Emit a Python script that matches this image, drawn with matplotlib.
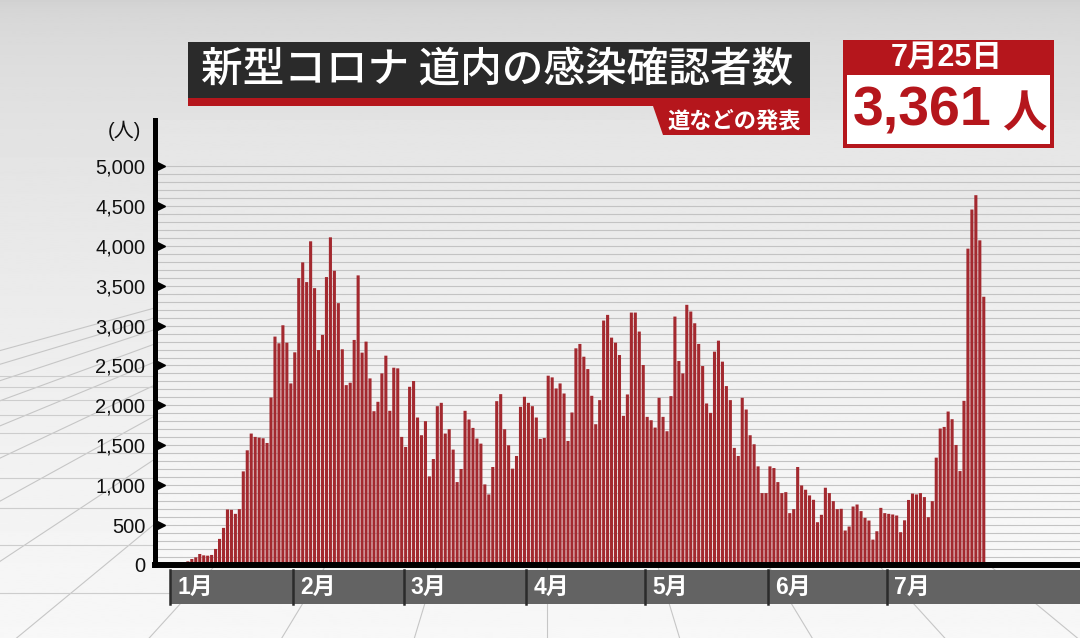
import matplotlib.pyplot as plt
import matplotlib.transforms as mtransforms
from matplotlib.patches import Polygon, Rectangle
import numpy as np
import pandas as pd

plt.rcParams["font.family"] = ["Noto Sans CJK JP", "DejaVu Sans"]

# daily confirmed cases in Hokkaido, 2022-01-01 .. 2022-07-25
cases = [
    20, 20, 10, 30, 46, 75, 96, 138, 121, 117, 126, 201, 327, 465, 696, 691,
    641, 700, 1173, 1437, 1647, 1605, 1596, 1588, 1529, 2099, 2862, 2778, 3004, 2786,
    2275, 2665, 3595, 3792, 3545, 4056, 3469, 2694, 2883, 3608, 4106, 3687, 3281, 2703,
    2254, 2284, 2820, 3629, 2661, 2799, 2338, 1927, 2045, 2401, 2623, 1932, 2472, 2464,
    1605, 1479, 2233, 2305, 1848, 1626, 1802, 1110, 1328, 1990, 2032, 1647, 1701, 1446,
    1039, 1203, 1932, 1823, 1718, 1584, 1521, 1010, 884, 1228, 2053, 2141, 1701, 1500,
    1207, 1366, 1982, 2108, 2032, 1990, 1848, 1580, 1592, 2372, 2351, 2212, 2275, 2149,
    1554, 1911, 2715, 2770, 2610, 2455, 2120, 1764, 2066, 3063, 3134, 2849, 2786, 2631,
    1869, 2137, 3163, 3163, 2925, 2506, 1856, 1814, 1722, 2095, 1856, 1676, 2116, 3113,
    2556, 2401, 3260, 3176, 3029, 2770, 2493, 2024, 1906, 2673, 2811, 2548, 2242, 2066,
    1467, 1366, 2095, 1948, 1626, 1513, 1236, 901, 901, 1236, 1215, 1039, 901, 913,
    650, 700, 1228, 997, 943, 872, 817, 536, 629, 968, 901, 800, 700, 704,
    432, 482, 733, 758, 675, 591, 557, 318, 423, 716, 650, 641, 633, 620,
    411, 560, 815, 895, 884, 901, 851, 599, 800, 1345, 1710, 1730, 1923, 1827,
    1504, 1177, 2057, 3964, 4454, 4634, 4068, 3361,
]
dates = pd.date_range("2022-01-01", periods=len(cases), freq="D")

y_ticks = list(range(500, 5001, 500))
y_tick_labels = [f"{v:,}" for v in y_ticks]
title = "新型コロナ 道内の感染確認者数"
source = "道などの発表"
unit = "(人)"
latest_label = f"{dates[-1].month}月{dates[-1].day}日"
latest_value = cases[-1]

RED = "#b5161c"
BAR = "#a3292f"
W, H = 1080, 638
PLOT_L, PLOT_R, PLOT_T, PLOT_B = 155, 1080, 120, 565

fig = plt.figure(figsize=(W / 100, H / 100), dpi=100)


def fx(x):
    return x / W


def fy(y):
    return 1 - y / H


def shade(y):
    return 0.82 + 0.15 * np.sqrt(y / H)


# background with a perspective floor
bg = fig.add_axes([0, 0, 1, 1], zorder=0)
bg.set_xlim(0, W)
bg.set_ylim(H, 0)
bg.axis("off")
rows = np.linspace(0, H, 320)
bg.imshow(shade(rows)[:, None], cmap="gray", vmin=0, vmax=1, extent=[0, W, H, 0],
          aspect="auto", zorder=0)
vx, vy = 547, 200
for k in range(-12, 7):
    slope = 122 * k / (603 - vy)
    bg.plot([vx, vx + slope * (H - vy)], [vy, H], color="#c6c6c6", lw=0.8, zorder=1)
for k in range(0, 10):
    yy = vy + 1 / (0.002545 + 0.00035 * k)
    bg.plot([0, W], [yy, yy], color="#cdcdcd", lw=0.8, zorder=1)
# plot area keeps the plain gradient
inner = np.linspace(PLOT_T, PLOT_B, 200)
bg.imshow(shade(inner)[:, None] + 0.01, cmap="gray", vmin=0, vmax=1,
          extent=[PLOT_L, PLOT_R, PLOT_B, PLOT_T], aspect="auto", zorder=2)
bg.set_xlim(0, W)
bg.set_ylim(H, 0)

# chart
ax = fig.add_axes([fx(PLOT_L), fy(PLOT_B), fx(PLOT_R) - fx(PLOT_L), fy(PLOT_T) - fy(PLOT_B)], zorder=1)
ax.patch.set_visible(False)
days = np.arange(len(cases))
bars = ax.bar(days, cases, width=0.78, color=BAR, edgecolor="none", zorder=3)
for b in bars:
    b.set_snap(False)
ax.set_xlim(-4.3, 229.3)
ax.set_ylim(0, 5576)

for side in ("top", "right"):
    ax.spines[side].set_visible(False)
ax.spines["left"].set_linewidth(3.6)
ax.spines["bottom"].set_linewidth(4.3)
ax.spines["left"].set_zorder(6)
ax.spines["bottom"].set_zorder(6)

ax.set_xticks([])
ax.set_yticks([0] + y_ticks, ["0"] + y_tick_labels)
ax.set_yticks(np.arange(100, 5001, 100), minor=True)
ax.tick_params(axis="y", which="both", length=0, pad=7, labelsize=14.5, labelcolor="#111111")
for lab in ax.get_yticklabels():
    lab.set_family(["Liberation Sans", "DejaVu Sans"])
ax.grid(axis="y", which="both", color="#c3c3c3", lw=0.8)
ax.set_axisbelow(True)

tick_trans = mtransforms.blended_transform_factory(ax.transAxes, ax.transData)
ax.plot(np.full(len(y_ticks), 0.0055), y_ticks, ">", ms=6.5, color="black",
        transform=tick_trans, clip_on=False, zorder=7)

# month strip under the axis
strip = mtransforms.blended_transform_factory(ax.transData, ax.transAxes)
s_top, s_bot = -0.0112, -0.0876
month_starts = np.flatnonzero(dates.day == 1)
x_right = ax.get_xlim()[1]
ax.add_patch(Rectangle((month_starts[0] - 0.5, s_bot), x_right - month_starts[0] + 0.5, s_top - s_bot,
                       transform=strip, facecolor="#636363", edgecolor="none", clip_on=False, zorder=4))
for s in month_starts:
    ax.plot([s - 0.5, s - 0.5], [s_bot, s_top], color="#2b2b2b", lw=1.8,
            transform=strip, clip_on=False, zorder=5)
    ax.text(s + 1.3, (s_top + s_bot) / 2, f"{dates[s].month}月", transform=strip,
            ha="left", va="center", color="white", fontsize=16.5, fontweight="bold",
            family=["Liberation Sans", "Noto Sans CJK JP"], clip_on=False, zorder=6)

fig.text(fx(141), fy(131), unit, ha="right", va="center", fontsize=14.5, color="#111111",
         family=["Liberation Sans", "Noto Sans CJK JP"])

# title block
fig.add_artist(Rectangle((fx(188), fy(98)), fx(810) - fx(188), fy(42) - fy(98),
                         transform=fig.transFigure, facecolor="#2a2a2a", edgecolor="none", zorder=5))
fig.add_artist(Rectangle((fx(188), fy(106)), fx(810) - fx(188), fy(98) - fy(106),
                         transform=fig.transFigure, facecolor=RED, edgecolor="none", zorder=5))
fig.add_artist(Polygon([(fx(653), fy(106)), (fx(810), fy(106)), (fx(810), fy(135)), (fx(663), fy(135))],
                       closed=True, transform=fig.transFigure, facecolor=RED, edgecolor="none", zorder=5))
fig.text(fx(497), fy(70), title, ha="center", va="center", color="white", fontsize=30,
         fontweight="medium", zorder=6)
fig.text(fx(734), fy(121), source, ha="center", va="center", color="white", fontsize=16,
         fontweight="bold", zorder=6)

# latest value box
fig.add_artist(Rectangle((fx(843), fy(148)), fx(1054) - fx(843), fy(40) - fy(148),
                         transform=fig.transFigure, facecolor=RED, edgecolor="none", zorder=5))
fig.add_artist(Rectangle((fx(847), fy(144)), fx(1050) - fx(847), fy(75) - fy(144),
                         transform=fig.transFigure, facecolor="white", edgecolor="none", zorder=5))
fig.text(fx(947), fy(58), latest_label, ha="center", va="center", color="white", fontsize=22,
         fontweight="bold", family=["Liberation Sans", "Noto Sans CJK JP"], zorder=6)
fig.text(fx(992), fy(111), f"{latest_value:,}", ha="right", va="center", color=RED, fontsize=40,
         fontweight="bold", family=["Liberation Sans", "Noto Sans CJK JP"], zorder=6)
fig.text(fx(1024), fy(114), "人", ha="center", va="center", color=RED, fontsize=32,
         fontweight="bold", zorder=6)

fig.savefig("out.png", dpi=100)
